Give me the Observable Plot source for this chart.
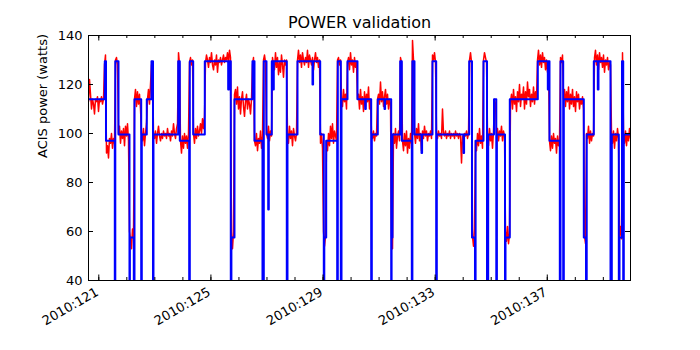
<!DOCTYPE html>
<html><head><meta charset="utf-8">
<script src="https://cdn.jsdelivr.net/npm/d3@7"></script>
<script src="https://cdn.jsdelivr.net/npm/@observablehq/plot@0.6"></script>
<style>body{margin:0;background:#fff;}</style>
</head><body><div id="chart"></div>
<script>
const title = "POWER validation";
const yLabel = "ACIS power (watts)";
const majorDays = [121, 125, 129, 133, 137];
const minorDays = [121,122,123,124,125,126,127,128,129,130,131,132,133,134,135,136,137,138,139];
const yTicks = [40, 60, 80, 100, 120, 140];
const xDomain = [120.633, 139.969];
const yDomain = [40, 140];

// model (blue) step series: day-of-year and watts
const blueDays = [120.633,121.214,121.257,121.571,121.589,121.703,122.095,122.110,122.249,122.274,122.513,122.534,122.712,122.880,122.934,122.951,123.833,123.890,124.225,124.247,124.368,124.782,125.616,125.645,125.709,125.731,125.841,126.483,126.555,126.840,126.887,126.983,127.044,127.065,127.172,127.222,127.243,127.707,127.732,128.089,128.624,128.645,128.899,129.027,129.045,129.113,129.505,129.527,129.634,129.659,129.873,130.229,130.504,130.526,130.718,130.740,130.954,131.193,131.214,131.432,131.446,131.478,131.753,131.810,132.167,132.188,132.263,132.513,132.534,132.905,133.037,133.059,134.011,134.032,134.215,134.314,134.421,134.443,134.725,134.850,134.892,135.099,135.181,135.203,135.492,135.510,135.663,136.662,137.019,137.044,137.079,137.447,137.472,137.568,137.590,138.303,138.382,138.407,138.660,138.802,138.827,139.256,139.302,139.552,139.577,139.666,139.709,139.730,139.969];
const blueWatts = [114,129.5,97,0,129.5,99.6,0,57.6,0,114,0,99.6,114,129.5,0,99.6,129.5,97,0,129.5,99.6,129.5,118,129.5,0,57.6,114,129.5,97,0,129.5,99.6,69,99.6,129.5,118,129.5,0,99.6,129.5,120,129.5,99.6,0,57.6,97,0,129.5,0,114,129.5,114,110,114,0,99.6,114,110,114,0,57.6,99.6,129.5,97,0,129.5,99.6,92,99.6,129.5,0,99.6,92,99.6,129.5,57.6,0,97,129.5,0,99.6,114,0,99.6,0,57.6,114,129.5,118,129.5,97,0,129.5,0,114,57.6,0,99.6,129.5,118,129.5,0,99.6,0,57.6,129.5,0,99.6,99.6];

// telemetry (red): regular samples starting at redStartDay, one every redStepDay
const redStartDay = 120.633;
const redStepDay = 0.035676;
const redWatts = [
113,122,116,110,114,112,108,114,113,115,109,114,113,115,112,114,128,
132,92,95,90,98,96,100,94,98,96,
130,131,128,
100,103,96,101,98,102,95,103,99,104,97,
60,57,53,61,58,
114,118,111,117,112,116,110,
100,97,102,95,100,104,
114,118,112,120,128,129,
100,98,101,96,100,103,99,97,100,98,101,99,100,98,102,99,100,97,101,99,104,100,98,102,104,
133,128,
97,92,99,94,100,96,99,94,100,
129,131,128,130,
100,96,102,98,103,99,101,104,100,106,102,107,
129,132,130,127,131,129,133,128,126,130,128,132,125,130,129,131,128,130,132,129,131,130,133,129,134,131,
58,53,60,
116,118,112,119,110,115,108,114,117,111,107,113,116,110,114,112,108,114,
128,131,
97,95,100,93,98,96,101,94,99,
130,132,129,
100,98,103,97,101,99,
131,128,126,133,127,131,124,129,125,132,128,123,130,128,130,
100,96,103,98,101,95,102,99,97,100,
130,134,129,132,127,133,130,128,131,129,134,127,132,130,128,131,126,130,133,129,131,127,130,
96,100,94,
60,54,58,
97,93,100,95,103,98,104,96,101,99,97,
130,131,128,130,
114,111,118,113,116,110,
129,131,126,133,128,130,125,131,127,129,
114,116,110,118,112,115,109,117,111,116,113,119,110,114,
100,98,101,97,100,99,
114,116,112,121,113,117,111,115,118,112,116,110,114,112,
58,53,
100,96,102,94,99,101,97,
131,129,
97,93,100,95,101,92,98,94,100,96,
138,130,
100,96,102,98,104,97,100,93,101,98,103,99,101,97,100,99,101,98,
132,130,133,129,
100,98,101,99,100,98,110,100,99,101,98,100,99,101,98,100,99,100,98,101,99,100,98,100,99,88,99,98,100,99,101,98,100,
130,133,129,
58,54,61,
97,93,100,95,102,96,99,94,
130,133,131,129,
100,95,102,97,100,94,101,
114,112,
100,102,97,101,99,103,97,101,99,
60,56,62,55,59,
113,116,110,118,112,115,109,117,113,120,111,116,114,119,110,117,112,121,115,118,111,116,113,119,112,117,114,
130,134,128,132,127,133,129,131,126,130,125,129,
97,93,99,94,100,96,98,92,99,95,97,
131,129,132,
114,118,111,117,113,119,110,116,112,118,111,115,109,117,113,116,110,114,112,115,110,
58,55,
100,98,103,96,101,97,100,99,
131,134,128,132,126,133,129,131,127,132,125,130,128,131,126,129,128,
100,96,101,94,100,97,102,98,
58,62,57,
133,
100,96,101,95,100,97,102,98
];

const blue = blueDays.map((d, i) => ({day: d, watts: blueWatts[i]}));
const red = redWatts.map((w, i) => ({day: redStartDay + i * redStepDay, watts: w}));

const frameH = 350 - 35 - 70;
const frameW = 700 - 88 - 70;

const chart = Plot.plot({
  width: 700, height: 350,
  marginLeft: 88, marginRight: 70, marginTop: 35, marginBottom: 70,
  x: {domain: xDomain, axis: null},
  y: {domain: yDomain, axis: null},
  style: {fontFamily: "'DejaVu Sans', sans-serif", fontSize: "13px", background: "white", color: "black"},
  marks: [
    Plot.line(red, {x: "day", y: "watts", stroke: "#ff0000", strokeWidth: 1.5, clip: true}),
    Plot.line(blue, {x: "day", y: "watts", stroke: "#0000ff", strokeWidth: 2, curve: "step-after", clip: true}),
    Plot.frame({stroke: "black", strokeWidth: 1}),
    Plot.tickY(yTicks, {y: d => d, insetRight: frameW - 5, stroke: "black"}),
    Plot.tickY(yTicks, {y: d => d, insetLeft: frameW - 5, stroke: "black"}),
    Plot.tickX(minorDays, {x: d => d, insetTop: frameH - 3, stroke: "black"}),
    Plot.tickX(minorDays, {x: d => d, insetBottom: frameH - 3, stroke: "black"}),
    Plot.tickX(majorDays, {x: d => d, insetTop: frameH - 5.5, stroke: "black"}),
    Plot.tickX(majorDays, {x: d => d, insetBottom: frameH - 5.5, stroke: "black"}),
    Plot.text(yTicks, {y: d => d, frameAnchor: "left", textAnchor: "end", dx: -6, text: d => String(d), fontSize: 13}),
    Plot.text(majorDays, {x: d => d, frameAnchor: "bottom", text: d => "2010:" + d, rotate: -30, textAnchor: "end", lineAnchor: "top", dy: 6, dx: -4, fontSize: 13}),
    Plot.text([title], {frameAnchor: "top", dy: -13, fontSize: 16, lineAnchor: "middle"}),
    Plot.text([yLabel], {frameAnchor: "left", rotate: -90, dx: -46, fontSize: 13})
  ]
});
document.getElementById("chart").appendChild(chart);
</script>
</body></html>
